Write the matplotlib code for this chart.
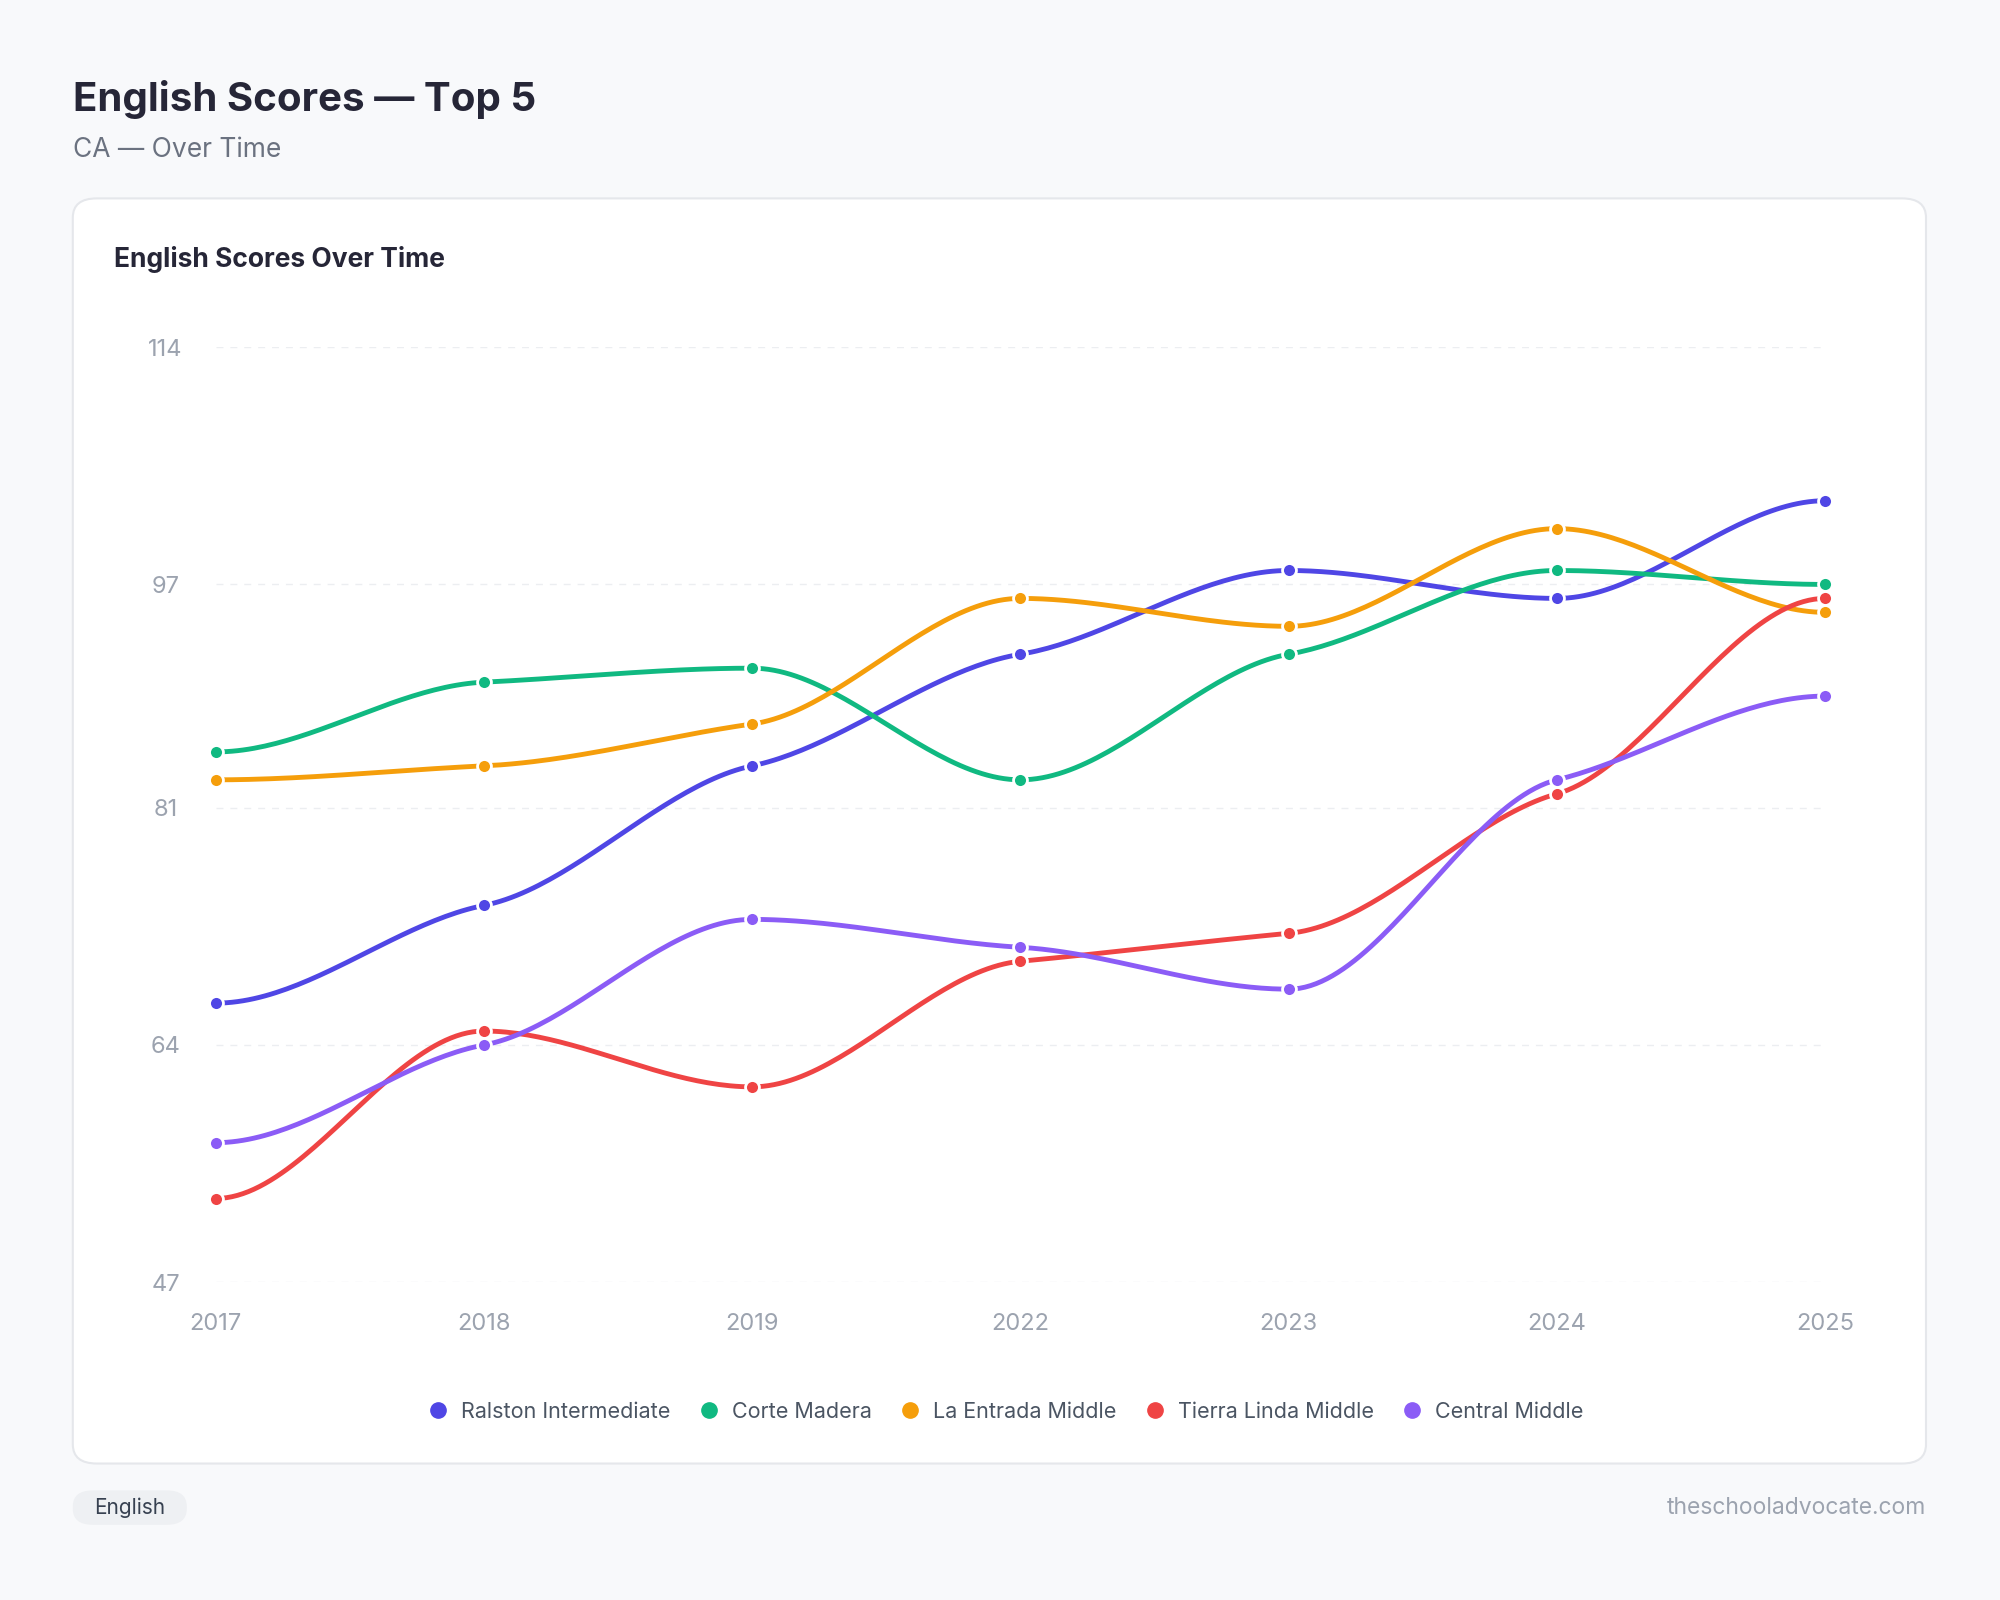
import matplotlib
matplotlib.use("Agg")
import matplotlib.pyplot as plt
from matplotlib.patches import FancyBboxPatch
import numpy as np

years = ["2017", "2018", "2019", "2022", "2023", "2024", "2025"]
ralston = [67, 74, 84, 92, 98, 96, 103]
corte = [85, 90, 91, 83, 92, 98, 97]
entrada = [83, 84, 87, 96, 94, 101, 95]
tierra = [53, 65, 61, 70, 72, 82, 96]
central = [57, 64, 73, 71, 68, 83, 89]
names = ["Ralston Intermediate", "Corte Madera", "La Entrada Middle", "Tierra Linda Middle", "Central Middle"]
colors = ["#4f46e5", "#10b981", "#f59e0b", "#ef4444", "#8b5cf6"]
yticks = [47, 64, 81, 97, 114]

plt.rcParams['font.family'] = ['Inter', 'DejaVu Sans']
fig = plt.figure(figsize=(20, 16), dpi=100)
fig.patch.set_facecolor("#f8f9fb")

card = FancyBboxPatch((0.0364, 0.0853), 0.9266, 0.7907, boxstyle="round,pad=0,rounding_size=0.012",
                      transform=fig.transFigure, facecolor="white", edgecolor="#e5e7eb", lw=1.5, zorder=-5)
fig.patches.append(card)

fig.text(0.0364, 0.938, "English Scores — Top 5", fontsize=29, fontweight="bold", color="#262637", va="center")
fig.text(0.0364, 0.906, "CA — Over Time", fontsize=19, color="#6b7280", va="center")
fig.text(0.057, 0.838, "English Scores Over Time", fontsize=19, fontweight="bold", color="#262637", va="center")

ax = fig.add_axes([0.1078, 0.1986, 0.8048, 0.5844])
ax.set_zorder(2)
ax.set_facecolor("none")
x = np.arange(len(years))

def soft_curve(xs, ys, n=50, k=0.45):
    # Hermite curve with damped monotone tangents (flat-ish at points)
    xs = np.asarray(xs, float); ys = np.asarray(ys, float)
    h = np.diff(xs); s = np.diff(ys) / h
    N = len(ys); m = np.zeros(N)
    for i in range(1, N-1):
        p = (s[i-1]*h[i] + s[i]*h[i-1]) / (h[i-1] + h[i])
        m[i] = (np.sign(s[i-1]) + np.sign(s[i])) * min(abs(s[i-1]), abs(s[i]), 0.5*abs(p))
    m *= k
    ox, oy = [], []
    t = np.linspace(0, 1, n)
    for i in range(N-1):
        h00 = 2*t**3-3*t**2+1; h10 = t**3-2*t**2+t; h01 = -2*t**3+3*t**2; h11 = t**3-t**2
        ox.extend(xs[i] + t*h[i])
        oy.extend(h00*ys[i] + h10*h[i]*m[i] + h01*ys[i+1] + h11*h[i]*m[i+1])
    return ox, oy

for vals, c in zip([ralston, corte, entrada, tierra, central], colors):
    sx, sy = soft_curve(x, vals)
    ax.plot(sx, sy, color=c, lw=3.5, zorder=3, solid_capstyle="round", clip_on=False)
    ax.plot(x, vals, "o", color=c, ms=10, mec="white", mew=2, zorder=4, clip_on=False)

ax.set_xlim(0, len(years)-1)
ax.set_ylim(47, 114)
ax.set_yticks(yticks)
ax.set_xticks(x)
ax.set_xticklabels(years)
ax.tick_params(length=0, labelsize=17, colors="#9ca3af")
ax.tick_params(axis="x", pad=22)
for lbl in ax.get_yticklabels():
    lbl.set_horizontalalignment("center")
ax.yaxis.set_tick_params(pad=36)
for s in ax.spines.values():
    s.set_visible(False)
ax.grid(axis="y", color="#eceef1", lw=1, ls=(0, (5, 5)))
ax.set_axisbelow(True)

handles = [plt.Line2D([], [], marker="o", ls="", color=c, ms=11) for c in colors]
leg = fig.legend(handles, names, loc="center", bbox_to_anchor=(0.5, 0.1175), ncol=5, frameon=False,
           fontsize=15.5, labelcolor="#4b5563", handletextpad=0.05, columnspacing=0.8)
leg.set_zorder(3)

fb = FancyBboxPatch((0.0364, 0.047), 0.057, 0.0215, boxstyle="round,pad=0,rounding_size=0.01",
                    transform=fig.transFigure, facecolor="#eef0f3", edgecolor="none", zorder=-5)
fig.patches.append(fb)
fig.text(0.065, 0.0575, "English", fontsize=15, color="#374151", ha="center", va="center")
fig.text(0.963, 0.0575, "theschooladvocate.com", fontsize=16.5, color="#9ca3af", ha="right", va="center")

fig.savefig("out.png", dpi=100, facecolor=fig.get_facecolor())
